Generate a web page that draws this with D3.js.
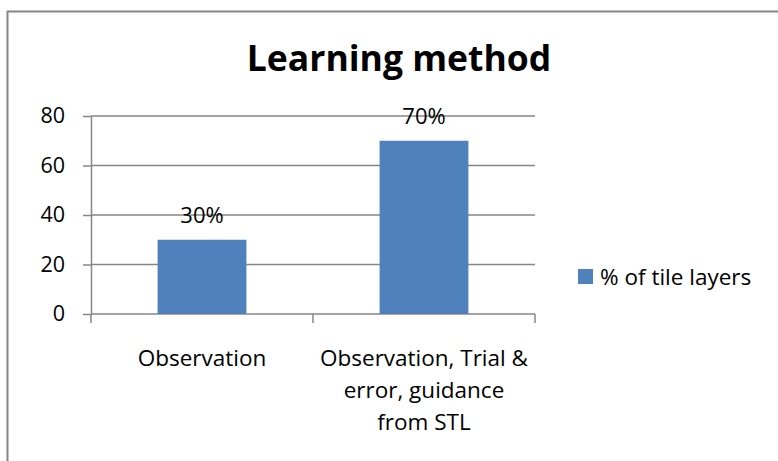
<!DOCTYPE html>
<html>
<head>
<meta charset="utf-8">
<script src="https://cdn.jsdelivr.net/npm/d3@7"></script>
<style>
  body { margin: 0; background: #fff; }
  svg { display: block; font-family: "Open Sans", "Noto Sans", sans-serif; }
</style>
</head>
<body>
<div id="chart"></div>
<script>
// --- Data ---
const categories = ["Observation", "Observation, Trial & error, guidance from STL"];
const categoryLines = [["Observation"], ["Observation, Trial &", "error, guidance", "from STL"]];
const values = [30, 70];
const valueLabels = ["30%", "70%"];
const yTicks = [0, 20, 40, 60, 80];
const seriesName = "% of tile layers";

const width = 778, height = 461;
const margin = { left: 91, right: 243, top: 116, bottom: 147 };
const barColor = "#4F81BD";
const gridColor = "#868686";
const labelSize = 22.5;

const svg = d3.select("#chart").append("svg")
  .attr("width", width)
  .attr("height", height);

// chart border
svg.append("rect")
  .attr("x", 7.5).attr("y", 11.5)
  .attr("width", 800).attr("height", 500)
  .attr("fill", "none")
  .attr("stroke", gridColor)
  .attr("stroke-width", 2);

const x = d3.scaleBand()
  .domain(categories)
  .range([margin.left, width - margin.right])
  .paddingInner(0.6)
  .paddingOuter(0.3);

const y = d3.scaleLinear()
  .domain([0, 80])
  .range([height - margin.bottom, margin.top]);

// --- Gridlines + y axis ---
const yAxis = svg.append("g")
  .attr("transform", `translate(${margin.left},0)`)
  .call(d3.axisLeft(y).tickValues(yTicks).tickSize(8).tickPadding(18)
    .tickSizeOuter(0));
yAxis.select(".domain").attr("stroke", gridColor).attr("stroke-width", 1.5);
yAxis.selectAll(".tick line").attr("stroke", gridColor).attr("stroke-width", 1.5);
yAxis.selectAll(".tick text")
  .attr("font-size", 21.5)
  .attr("fill", "#000")
  .attr("font-family", "'Open Sans', sans-serif");

svg.append("g").selectAll("line")
  .data(yTicks)
  .enter()
  .append("line")
  .attr("x1", margin.left)
  .attr("x2", width - margin.right)
  .attr("y1", d => y(d))
  .attr("y2", d => y(d))
  .attr("stroke", gridColor)
  .attr("stroke-width", 1.5);

// --- x axis ticks at band boundaries ---
const bandStep = (width - margin.right - margin.left) / categories.length;
svg.append("g").selectAll("line")
  .data(d3.range(categories.length + 1))
  .enter()
  .append("line")
  .attr("x1", i => margin.left + i * bandStep)
  .attr("x2", i => margin.left + i * bandStep)
  .attr("y1", y(0))
  .attr("y2", y(0) + 9)
  .attr("stroke", gridColor)
  .attr("stroke-width", 1.5);

// --- Bars ---
svg.append("g").selectAll("rect")
  .data(values)
  .enter()
  .append("rect")
  .attr("x", (d, i) => x(categories[i]))
  .attr("width", x.bandwidth())
  .attr("y", d => y(d))
  .attr("height", d => y(0) - y(d))
  .attr("fill", barColor);

// --- Value labels ---
svg.append("g").selectAll("text")
  .data(values)
  .enter()
  .append("text")
  .attr("x", (d, i) => x(categories[i]) + x.bandwidth() / 2)
  .attr("y", d => y(d) - 17)
  .attr("text-anchor", "middle")
  .attr("font-size", 22)
  .text((d, i) => valueLabels[i]);

// --- Category labels ---
const catG = svg.append("g").selectAll("text")
  .data(categories)
  .enter()
  .append("text")
  .attr("text-anchor", "middle")
  .attr("font-size", labelSize)
  .attr("x", d => x(d) + x.bandwidth() / 2)
  .attr("y", 366);
catG.selectAll("tspan")
  .data((d, i) => categoryLines[i])
  .enter()
  .append("tspan")
  .attr("x", function () { return this.parentNode.getAttribute("x"); })
  .attr("dy", (d, j) => j === 0 ? 0 : 32)
  .text(d => d);

// --- Title ---
svg.append("text")
  .attr("x", 399)
  .attr("y", 71)
  .attr("text-anchor", "middle")
  .attr("font-size", 35.5)
  .attr("font-weight", "bold")
  .text("Learning method");

// --- Legend ---
const legend = svg.append("g").attr("transform", "translate(578,269)");
legend.append("rect")
  .attr("width", 15).attr("height", 15)
  .attr("fill", barColor);
legend.append("text")
  .attr("x", 22).attr("y", 15.5)
  .attr("font-size", labelSize)
  .text(seriesName);
</script>
</body>
</html>
